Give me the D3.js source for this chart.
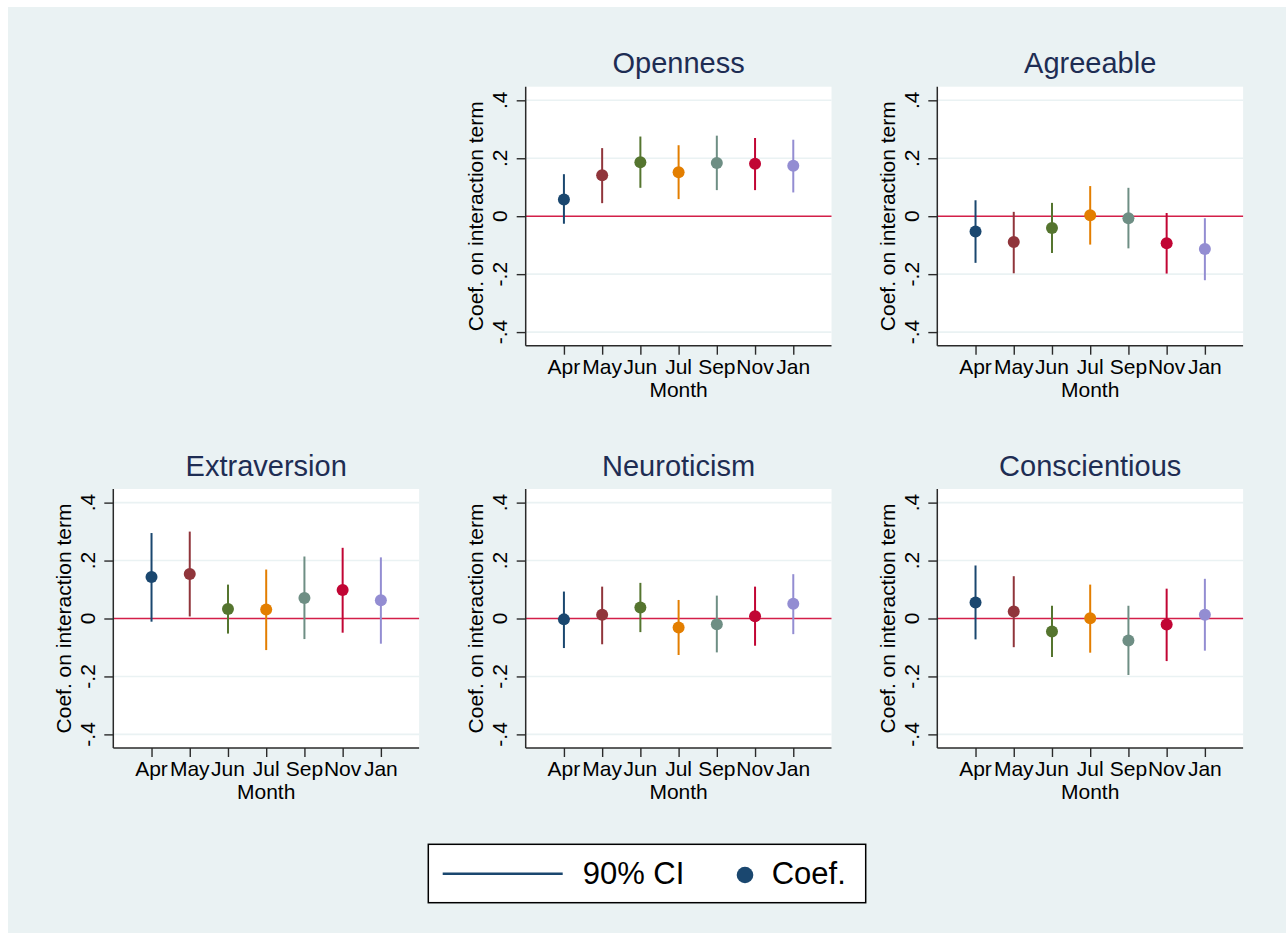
<!DOCTYPE html>
<html>
<head>
<meta charset="utf-8">
<script src="https://cdn.jsdelivr.net/npm/d3@7"></script>
<style>
  html, body { margin: 0; padding: 0; background: #ffffff; }
  text { font-family: "Liberation Sans", Arial, Helvetica, sans-serif; }
</style>
</head>
<body>
<svg id="chart" width="1286" height="933"></svg>
<script>
// ---------- data ----------
const months = ["Apr", "May", "Jun", "Jul", "Sep", "Nov", "Jan"];
const yTicks = [-0.4, -0.2, 0, 0.2, 0.4];
const yTickLabels = ["-.4", "-.2", "0", ".2", ".4"];
const monthColors = ["#1a476f", "#90353b", "#55752f", "#e37e00", "#6e8e84", "#c10534", "#938dd2"];

const panelTitles = ["Openness", "Agreeable", "Extraversion", "Neuroticism", "Conscientious"];

const opennessCoef = [0.058, 0.141, 0.186, 0.152, 0.184, 0.181, 0.174];
const opennessLo   = [-0.026, 0.045, 0.098, 0.059, 0.090, 0.090, 0.082];
const opennessHi   = [0.145, 0.235, 0.275, 0.245, 0.278, 0.270, 0.264];

const agreeableCoef = [-0.053, -0.089, -0.041, 0.003, -0.007, -0.093, -0.113];
const agreeableLo   = [-0.161, -0.197, -0.127, -0.098, -0.111, -0.198, -0.221];
const agreeableHi   = [0.055, 0.015, 0.046, 0.104, 0.098, 0.011, -0.007];

const extraversionCoef = [0.143, 0.154, 0.033, 0.031, 0.071, 0.098, 0.063];
const extraversionLo   = [-0.011, 0.007, -0.052, -0.109, -0.071, -0.049, -0.087];
const extraversionHi   = [0.295, 0.300, 0.117, 0.169, 0.214, 0.244, 0.211];

const neuroticismCoef = [-0.003, 0.013, 0.038, -0.031, -0.020, 0.008, 0.051];
const neuroticismLo   = [-0.102, -0.089, -0.047, -0.126, -0.117, -0.094, -0.054];
const neuroticismHi   = [0.093, 0.110, 0.123, 0.064, 0.079, 0.110, 0.153];

const conscientiousCoef = [0.055, 0.024, -0.045, 0.001, -0.076, -0.021, 0.013];
const conscientiousLo   = [-0.072, -0.099, -0.133, -0.118, -0.195, -0.147, -0.111];
const conscientiousHi   = [0.183, 0.146, 0.044, 0.117, 0.044, 0.103, 0.137];

const legendLabels = ["90% CI", "Coef."];

// ---------- layout ----------
const svg = d3.select("#chart");
const bg = "#eaf2f3";
svg.append("rect").attr("x", 8).attr("y", 7).attr("width", 1286 - 8).attr("height", 933 - 7).attr("fill", bg);

const PW = 305.8, PH = 259;
const panelPos = [
  {left: 525.7, top: 86.7},
  {left: 937.3, top: 86.7},
  {left: 113.3, top: 489},
  {left: 525.7, top: 489},
  {left: 937.3, top: 489}
];
const panelData = [
  [opennessCoef, opennessLo, opennessHi],
  [agreeableCoef, agreeableLo, agreeableHi],
  [extraversionCoef, extraversionLo, extraversionHi],
  [neuroticismCoef, neuroticismLo, neuroticismHi],
  [conscientiousCoef, conscientiousLo, conscientiousHi]
];

const titleColor = "#1e2d53";
const zeroColor = "#d31f49";
const axisColor = "#2a2a2a";

panelTitles.forEach((title, pi) => {
  const pos = panelPos[pi];
  const [coef, lo, hi] = panelData[pi];
  const g = svg.append("g").attr("transform", `translate(${pos.left},${pos.top})`);

  const x = d3.scaleLinear().domain([0, 8]).range([0, PW]);
  const y = d3.scaleLinear().domain([-0.447, 0.447]).range([PH, 0]);

  // plot region
  g.append("rect").attr("x", 0).attr("y", 0).attr("width", PW).attr("height", PH).attr("fill", "#ffffff");

  // grid lines
  g.selectAll("line.grid").data(yTicks.filter(t => t !== 0)).enter().append("line")
    .attr("x1", 0).attr("x2", PW)
    .attr("y1", d => y(d)).attr("y2", d => y(d))
    .attr("stroke", bg).attr("stroke-width", 1.6);

  // zero line
  g.append("line").attr("x1", 0).attr("x2", PW).attr("y1", y(0)).attr("y2", y(0))
    .attr("stroke", zeroColor).attr("stroke-width", 1.6);

  // CI lines
  months.forEach((m, i) => {
    g.append("line")
      .attr("x1", x(i + 1)).attr("x2", x(i + 1))
      .attr("y1", y(lo[i])).attr("y2", y(hi[i]))
      .attr("stroke", monthColors[i]).attr("stroke-width", 2);
  });
  // markers
  months.forEach((m, i) => {
    g.append("circle")
      .attr("cx", x(i + 1)).attr("cy", y(coef[i])).attr("r", 6)
      .attr("fill", monthColors[i]);
  });

  // y axis
  const yAxis = d3.axisLeft(y).tickValues(yTicks).tickSize(9).tickFormat("");
  const ya = g.append("g").call(yAxis);
  ya.select(".domain").attr("stroke", axisColor).attr("stroke-width", 1.5).attr("d", `M0,0V${PH}`);
  ya.selectAll(".tick line").attr("stroke", axisColor).attr("stroke-width", 1.4);
  yTicks.forEach((t, k) => {
    g.append("text")
      .attr("transform", `translate(${-18.4},${y(t)}) rotate(-90)`)
      .attr("text-anchor", "middle")
      .attr("font-size", 21).attr("fill", "#000")
      .text(yTickLabels[k]);
  });
  g.append("text")
    .attr("transform", `translate(${-42.4},${PH / 2}) rotate(-90)`)
    .attr("text-anchor", "middle")
    .attr("font-size", 21).attr("fill", "#000")
    .text("Coef. on interaction term");

  // x axis
  const xAxis = d3.axisBottom(x).tickValues(d3.range(1, 8)).tickSize(9).tickFormat("");
  const xa = g.append("g").attr("transform", `translate(0,${PH})`).call(xAxis);
  xa.select(".domain").attr("stroke", axisColor).attr("stroke-width", 1.5).attr("d", `M0,0H${PW}`);
  xa.selectAll(".tick line").attr("stroke", axisColor).attr("stroke-width", 1.4);
  months.forEach((m, i) => {
    g.append("text")
      .attr("x", x(i + 1)).attr("y", PH + 28.3)
      .attr("text-anchor", "middle")
      .attr("font-size", 21).attr("fill", "#000")
      .text(m);
  });
  g.append("text")
    .attr("x", PW / 2).attr("y", PH + 51)
    .attr("text-anchor", "middle")
    .attr("font-size", 21).attr("fill", "#000")
    .text("Month");

  // title
  g.append("text")
    .attr("x", PW / 2).attr("y", -13.4)
    .attr("text-anchor", "middle")
    .attr("font-size", 29).attr("fill", titleColor)
    .text(title);
});

// ---------- legend ----------
const lg = svg.append("g");
lg.append("rect").attr("x", 428.3).attr("y", 844.3).attr("width", 437.4).attr("height", 58.4)
  .attr("fill", "#ffffff").attr("stroke", "#000").attr("stroke-width", 1.5);
lg.append("line").attr("x1", 442.7).attr("x2", 562.7).attr("y1", 873.7).attr("y2", 873.7)
  .attr("stroke", monthColors[0]).attr("stroke-width", 2.6);
lg.append("text").attr("x", 582.7).attr("y", 884.3).attr("font-size", 31).attr("fill", "#000").text(legendLabels[0]);
lg.append("circle").attr("cx", 745).attr("cy", 875).attr("r", 8.3).attr("fill", monthColors[0]);
lg.append("text").attr("x", 771.7).attr("y", 884.3).attr("font-size", 31).attr("fill", "#000").text(legendLabels[1]);
</script>
</body>
</html>
